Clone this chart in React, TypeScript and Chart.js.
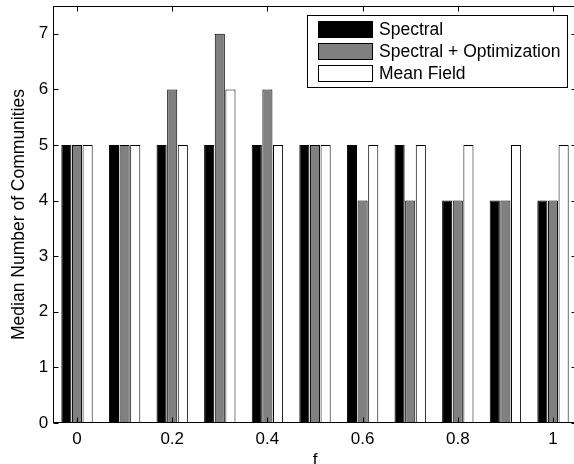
import React, { useEffect, useRef } from 'react';
import { Chart, registerables } from 'chart.js';

Chart.register(...registerables);

const categories = ['0', '0.1', '0.2', '0.3', '0.4', '0.5', '0.6', '0.7', '0.8', '0.9', '1'];
const xTickLabels = ['0', '', '0.2', '', '0.4', '', '0.6', '', '0.8', '', '1'];
const yTicks = [0, 1, 2, 3, 4, 5, 6, 7];
const seriesLabels = ['Spectral', 'Spectral + Optimization', 'Mean Field'];
const spectral = [5, 5, 5, 5, 5, 5, 5, 5, 4, 4, 4];
const spectralOpt = [5, 5, 6, 7, 6, 5, 4, 4, 4, 4, 4];
const meanField = [5, 5, 5, 6, 5, 5, 5, 5, 5, 5, 5];
const seriesColors = ['#000000', '#808080', '#ffffff'];

const FONT = '"Liberation Sans", Arial, Helvetica, sans-serif';
const CW = 600;
const CH = 480;

const boxPlugin = {
  id: 'matlabBox',
  afterDatasetsDraw(chart: any) {
    const { ctx, chartArea, scales } = chart;
    const { left, right, top, bottom } = chartArea;
    const x = scales.x;
    const y = scales.y;
    ctx.save();
    ctx.strokeStyle = '#000';
    ctx.lineWidth = 1;
    const L = Math.round(left) + 0.5;
    const R = Math.round(right) - 0.5;
    const T = Math.round(top) + 0.5;
    const B = Math.round(bottom) - 0.5;
    ctx.strokeRect(L, T, R - L, B - T);
    const tl = 5;
    ctx.beginPath();
    xTickLabels.forEach((lab, i) => {
      if (lab === '') return;
      const px = Math.round(x.getPixelForValue(i)) + 0.5;
      ctx.moveTo(px, B);
      ctx.lineTo(px, B - tl);
      ctx.moveTo(px, T);
      ctx.lineTo(px, T + tl);
    });
    yTicks.forEach((v) => {
      const py = Math.round(y.getPixelForValue(v)) + 0.5;
      ctx.moveTo(L, py);
      ctx.lineTo(L + tl, py);
      ctx.moveTo(R, py);
      ctx.lineTo(R - tl, py);
    });
    ctx.stroke();
    ctx.restore();
  },
};

const legendPlugin = {
  id: 'matlabLegend',
  afterDraw(chart: any) {
    const { ctx } = chart;
    const bx = 307.5;
    const by = 15.5;
    const bw = 260;
    const bh = 72;
    ctx.save();
    ctx.fillStyle = '#fff';
    ctx.fillRect(bx, by, bw, bh);
    ctx.strokeStyle = '#000';
    ctx.lineWidth = 1;
    ctx.strokeRect(bx, by, bw, bh);
    ctx.font = `17.5px ${FONT}`;
    ctx.textBaseline = 'middle';
    ctx.textAlign = 'left';
    chart.data.datasets.forEach((ds: any, i: number) => {
      const sy = 21.5 + i * 22;
      ctx.fillStyle = ds.backgroundColor;
      ctx.fillRect(318.5, sy, 54, 16);
      ctx.strokeStyle = '#000';
      ctx.strokeRect(318.5, sy, 54, 16);
      ctx.fillStyle = '#000';
      ctx.fillText(ds.label, 379, sy + 8.5);
    });
    ctx.restore();
  },
};

export default function App() {
  const canvasRef = useRef<HTMLCanvasElement | null>(null);

  useEffect(() => {
    const canvas = canvasRef.current;
    if (!canvas) return;
    const series = [spectral, spectralOpt, meanField];
    const chart = new Chart(canvas, {
      type: 'bar',
      data: {
        labels: categories,
        datasets: series.map((d, i) => ({
          label: seriesLabels[i],
          data: d,
          backgroundColor: seriesColors[i],
          borderColor: '#000000',
          borderWidth: 1,
          categoryPercentage: 0.67,
          barPercentage: 0.95,
        })),
      },
      options: {
        responsive: false,
        animation: false,
        devicePixelRatio: 1,
        layout: { padding: { left: 0, top: 6, right: CW - 576.8, bottom: 0 } },
        plugins: {
          legend: { display: false },
          tooltip: { enabled: false },
        },
        scales: {
          x: {
            type: 'category',
            offset: true,
            grid: { display: false, drawTicks: false },
            border: { display: false },
            ticks: {
              autoSkip: false,
              maxRotation: 0,
              padding: 6,
              color: '#000',
              font: { family: FONT, size: 17 },
              callback: (_v: any, i: number) => xTickLabels[i],
            },
            title: {
              display: true,
              text: 'f',
              color: '#000',
              font: { family: FONT, size: 17 },
              padding: { top: 0, bottom: 9 },
            },
            afterFit: (scale: any) => {
              scale.height = CH - 423;
              scale.paddingLeft = 0;
              scale.paddingRight = 0;
            },
          },
          y: {
            min: 0,
            max: 7.5,
            grid: { display: false, drawTicks: false },
            border: { display: false },
            afterBuildTicks: (scale: any) => {
              scale.ticks = yTicks.map((v) => ({ value: v }));
            },
            ticks: {
              padding: 5,
              color: '#000',
              font: { family: FONT, size: 17 },
            },
            title: {
              display: true,
              text: 'Median Number of Communities',
              color: '#000',
              font: { family: FONT, size: 17.5 },
              padding: { top: 9, bottom: 0 },
            },
            afterFit: (scale: any) => {
              scale.width = 53.2;
              scale.paddingTop = 0;
              scale.paddingBottom = 0;
            },
          },
        },
      },
      plugins: [boxPlugin, legendPlugin],
    });
    return () => chart.destroy();
  }, []);

  return (
    <div
      style={{
        position: 'fixed',
        left: 0,
        top: 0,
        width: 574,
        height: 464,
        overflow: 'hidden',
        background: '#fff',
      }}
    >
      <canvas ref={canvasRef} width={CW} height={CH} style={{ display: 'block', width: CW, height: CH }} />
    </div>
  );
}
